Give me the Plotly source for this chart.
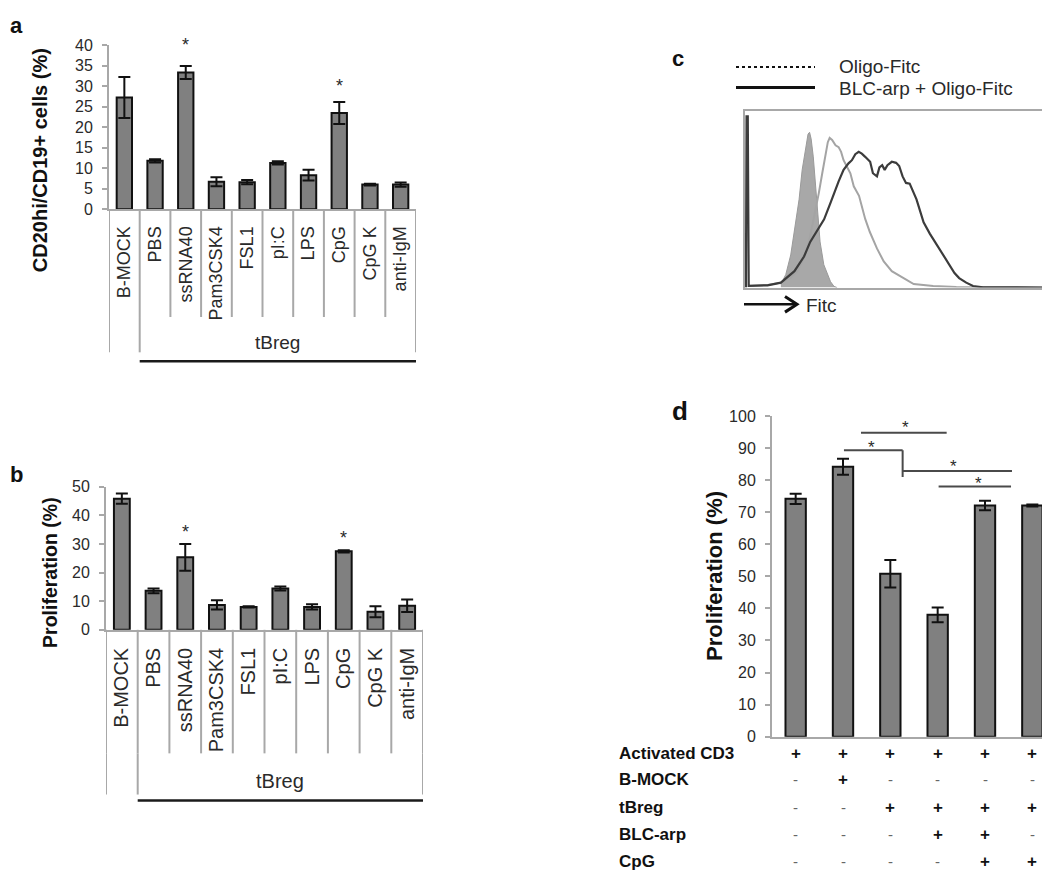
import plotly.graph_objects as go

W, H = 1050, 873
def px(x): return x / W
def py(y): return 1 - y / H

FONT = "Liberation Sans, Arial, sans-serif"
AX = "#a8a8a8"
TXT = "#2a2a2a"
BAR = "#808080"

# ---------------- data ----------------
cats = ["B-MOCK", "PBS", "ssRNA40", "Pam3CSK4", "FSL1", "pI:C", "LPS", "CpG", "CpG K", "anti-IgM"]
a_vals = [27.3, 11.8, 33.4, 6.7, 6.6, 11.3, 8.3, 23.5, 6.0, 6.0]
a_err = [5.0, 0.4, 1.6, 1.1, 0.5, 0.4, 1.3, 2.7, 0.2, 0.5]
a_star = [None, None, 41.0, None, None, None, None, 31.0, None, None]
b_vals = [45.8, 13.6, 25.3, 8.7, 8.0, 14.4, 8.0, 27.4, 6.3, 8.4]
b_err = [1.8, 0.8, 4.7, 1.6, 0.2, 0.7, 0.9, 0.4, 1.9, 2.2]
b_star = [None, None, 35.5, None, None, None, None, 33.5, None, None]
group_label = "tBreg"

d_cats = ["d1", "d2", "d3", "d4", "d5", "d6"]
d_vals = [74.2, 84.2, 50.8, 38.0, 72.1, 72.1]
d_err = [1.6, 2.5, 4.3, 2.3, 1.5, 0.3]
d_rows = ["Activated CD3", "B-MOCK", "tBreg", "BLC-arp", "CpG"]
d_signs = [
    ["+", "+", "+", "+", "+", "+"],
    ["-", "+", "-", "-", "-", "-"],
    ["-", "-", "+", "+", "+", "+"],
    ["-", "-", "-", "+", "+", "-"],
    ["-", "-", "-", "-", "+", "+"],
]
# significance brackets: (x start, x end, y level) in category / % units
d_sig_lines = [(1.38, 3.19, 94.8), (1.02, 2.26, 89.3), (2.26, 4.57, 82.9), (3.02, 4.55, 78.0)]
d_sig_drop = (2.26, 81.0, 89.3)
d_sig_stars = [(2.32, 97.6), (1.6, 91.3), (3.34, 85.4), (3.87, 80.2)]

# histogram (panel c), x = channel (0-100), y = relative count (0-100)
c_ctrl_x = [11.6, 13.2, 14.8, 16.0, 17.5, 18.5, 19.6, 20.4, 20.9, 21.4, 22.1, 22.8, 23.6, 24.3, 25.5, 26.6, 27.7, 28.8, 29.8]
c_ctrl_y = [1.9, 7.4, 18.5, 31.5, 50.0, 66.7, 79.6, 87.0, 88.0, 84.3, 74.1, 57.4, 42.6, 25.9, 13.0, 7.6, 3.3, 0.7, 0.0]
c_oligo_x = [1.1, 7.3, 11.6, 14.8, 16.9, 19.1, 20.7, 22.3, 23.9, 25.0, 26.0, 26.8, 27.4, 28.2, 29.3, 30.3, 31.1, 31.9,
             33.0, 34.1, 35.2, 36.9, 38.9, 40.4, 42.7, 44.9, 47.5, 50.1, 54.6, 60.9, 68.4, 99.5]
c_oligo_y = [0.9, 1.5, 2.8, 5.6, 9.3, 16.7, 25.9, 38.9, 53.7, 64.8, 75.9, 82.4, 84.8, 83.7, 80.6, 79.6, 76.9, 72.2,
             68.5, 64.8, 57.4, 52.0, 38.9, 31.5, 22.2, 14.8, 9.3, 6.5, 2.0, 0.9, 0.4, 0.0]
c_blc_x = [0.3, 0.5, 0.9, 1.2, 7.3, 11.6, 16.0, 19.1, 21.1, 23.4, 25.6, 27.7, 28.8, 30.3, 31.9, 33.5, 34.6, 35.7, 36.8,
           37.8, 38.9, 40.5, 41.4, 42.7, 43.5, 44.4, 45.2, 46.1, 47.5, 48.9, 49.9, 51.0, 52.1, 53.3, 55.5, 57.8,
           59.8, 62.0, 64.1, 66.1, 67.8, 69.3, 71.6, 73.8, 77.0, 99.5]
c_blc_y = [0.0, 97.0, 97.0, 1.0, 1.3, 2.8, 9.3, 17.6, 25.9, 32.4, 38.7, 48.1, 53.7, 60.2, 66.7, 70.4, 72.2, 75.6, 76.9,
           75.9, 74.1, 71.3, 64.8, 63.0, 68.1, 69.4, 66.7, 69.4, 71.3, 70.7, 68.9, 63.0, 59.3, 58.9, 50.0, 37.0,
           30.6, 24.3, 18.5, 13.1, 8.3, 5.4, 2.8, 0.9, 0.2, 0.0]

fig = go.Figure()

def bar_trace(x, y, err, xa, ya, width):
    return go.Bar(
        x=x, y=y, xaxis=xa, yaxis=ya, width=width,
        marker=dict(color=BAR, line=dict(color="#111111", width=2)),
        error_y=dict(type="data", array=err, visible=True, color="#111111", thickness=2, width=6),
        hoverinfo="skip",
    )

fig.add_trace(bar_trace(cats, a_vals, a_err, "x", "y", 0.5))
fig.add_trace(bar_trace(cats, b_vals, b_err, "x2", "y2", 0.5))
fig.add_trace(bar_trace(d_cats, d_vals, d_err, "x4", "y4", 0.43))

# histogram traces
fig.add_trace(go.Scatter(x=c_ctrl_x, y=c_ctrl_y, xaxis="x3", yaxis="y3", mode="lines",
                         fill="tozeroy", fillcolor="#a8a8a8", line=dict(color="#9a9a9a", width=1),
                         hoverinfo="skip"))
fig.add_trace(go.Scatter(x=c_oligo_x, y=c_oligo_y, xaxis="x3", yaxis="y3", mode="lines",
                         line=dict(color="#a4a4a4", width=2), hoverinfo="skip"))
fig.add_trace(go.Scatter(x=c_blc_x, y=c_blc_y, xaxis="x3", yaxis="y3", mode="lines",
                         line=dict(color="#3c3c3c", width=2.2), hoverinfo="skip"))

ytick_common = dict(showline=True, linecolor=AX, linewidth=2, ticks="outside", ticklen=5,
                    tickcolor=AX, tickwidth=1.5, showgrid=False, zeroline=False,
                    tickfont=dict(family=FONT, size=16, color=TXT), ticklabelstandoff=6)

layout = dict(
    width=W, height=H, margin=dict(l=0, r=0, t=0, b=0),
    paper_bgcolor="white", plot_bgcolor="white", showlegend=False,
    font=dict(family=FONT, color=TXT),
    xaxis=dict(domain=[px(101), px(408)], anchor="y", range=[-0.5, 9.5], showline=True,
               linecolor=AX, linewidth=2, ticks="", tickangle=-90, showgrid=False,
               tickfont=dict(family=FONT, size=18, color=TXT), ticklabelstandoff=8),
    yaxis=dict(domain=[py(197), py(30)], anchor="x", range=[0, 40], dtick=5, **ytick_common),
    xaxis2=dict(domain=[px(98), px(415)], anchor="y2", range=[-0.5, 9.5], showline=True,
                linecolor=AX, linewidth=2, ticks="", tickangle=-90, showgrid=False,
                tickfont=dict(family=FONT, size=20, color=TXT), ticklabelstandoff=8),
    yaxis2=dict(domain=[py(626), py(480)], anchor="x2", range=[0, 50], dtick=10, **ytick_common),
    xaxis3=dict(domain=[px(737), px(1046)], anchor="y3", range=[0, 100], showline=True, mirror=True,
                linecolor=AX, linewidth=1.5, ticks="", showticklabels=False, showgrid=False, zeroline=False),
    yaxis3=dict(domain=[py(277), py(97)], anchor="x3", range=[0, 100], showline=True, mirror=True,
                linecolor=AX, linewidth=1.5, ticks="", showticklabels=False, showgrid=False, zeroline=False),
    xaxis4=dict(domain=[px(764), px(1048)], anchor="y4", range=[-0.5, 5.5], showline=True,
                linecolor=AX, linewidth=2, ticks="", showticklabels=False, showgrid=False),
    yaxis4=dict(domain=[py(735), py(408)], anchor="x4", range=[0, 100], dtick=10, **ytick_common),
)
fig.update_layout(**layout)

shapes = []
ann = []

def text(t, x, y, size, xref="paper", yref="paper", color=TXT, xanchor="center", angle=0, yshift=0):
    ann.append(dict(text=t, x=x, y=y, xref=xref, yref=yref, showarrow=False, xanchor=xanchor,
                    yanchor="middle", textangle=angle, yshift=yshift,
                    font=dict(family=FONT, size=size, color=color)))

# ---- category dividers & group bracket for a and b ----
def group_box(xa, y_axis, y_div, y_outer, y_line, n, y_text, fsize):
    for i in range(n + 1):
        xv = i - 0.5
        shapes.append(dict(type="line", xref=xa, yref="paper", x0=xv, x1=xv,
                           y0=py(y_axis), y1=py(y_div), line=dict(color=AX, width=2)))
    for xv in (-0.5, 0.5, n - 0.5):
        shapes.append(dict(type="line", xref=xa, yref="paper", x0=xv, x1=xv,
                           y0=py(y_div), y1=py(y_outer), line=dict(color=AX, width=2)))
    shapes.append(dict(type="line", xref=xa, yref="paper", x0=0.5, x1=n - 0.5,
                       y0=py(y_line), y1=py(y_line), line=dict(color="#1a1a1a", width=2.5)))
    text(group_label, (0.5 + n - 0.5) / 2, py(y_text), fsize, xref=xa)

group_box("x", 197, 307, 343, 352, 10, 333, 19)
group_box("x2", 626, 752, 794, 800, 10, 780, 20)

# stars a/b (in axis-domain units so they may sit above the top tick)
for i, s in enumerate(a_star):
    if s is not None:
        text("*", cats[i], s / 40.0, 18, xref="x", yref="y domain", yshift=-4)
for i, s in enumerate(b_star):
    if s is not None:
        text("*", cats[i], s / 50.0, 18, xref="x2", yref="y2 domain", yshift=-4)

# panel letters
for t, x, y, s in (("a", 8, 10, 22), ("b", 8, 468, 22), ("c", 670, 43, 22), ("d", 672, 403, 26)):
    text("<b>%s</b>" % t, px(x), py(y), s, color="#111")

# axis titles
text("<b>CD20hi/CD19+ cells (%)</b>", px(32), py(147), 20, color="#111", angle=-90)
text("<b>Proliferation (%)</b>", px(42), py(568), 19.5, color="#111", angle=-90)
text("<b>Proliferation (%)</b>", px(707), py(571), 22, color="#111", angle=-90)

# panel c legend / axis label
shapes.append(dict(type="line", xref="paper", yref="paper", x0=px(728), x1=px(807), y0=py(52), y1=py(52),
                   line=dict(color="#111", width=2, dash="dot")))
shapes.append(dict(type="line", xref="paper", yref="paper", x0=px(728), x1=px(807), y0=py(73), y1=py(73),
                   line=dict(color="#111", width=3)))
text("Oligo-Fitc", px(829), py(52), 19, xanchor="left")
text("BLC-arp + Oligo-Fitc", px(829), py(74), 19, xanchor="left")
shapes.append(dict(type="line", xref="paper", yref="paper", x0=px(736), x1=px(788), y0=py(294), y1=py(294),
                   line=dict(color="#111", width=2.5)))
shapes.append(dict(type="path", xref="paper", yref="paper",
                   path="M %f,%f L %f,%f L %f,%f" % (px(777), py(286), px(789), py(294), px(777), py(302)),
                   line=dict(color="#111", width=3)))
text("Fitc", px(796), py(295), 19, xanchor="left")

# panel d significance
for x0, x1, yv in d_sig_lines:
    shapes.append(dict(type="line", xref="x4", yref="y4", x0=x0, x1=x1, y0=yv, y1=yv,
                       line=dict(color="#4a4a4a", width=2)))
shapes.append(dict(type="line", xref="x4", yref="y4", x0=d_sig_drop[0], x1=d_sig_drop[0],
                   y0=d_sig_drop[1], y1=d_sig_drop[2], line=dict(color="#4a4a4a", width=2)))
for xs, ys in d_sig_stars:
    text("*", xs, ys, 17, xref="x4", yref="y4", yshift=-4)

# panel d condition table
row_y = [752, 779, 807, 835, 862]
for r, lab in enumerate(d_rows):
    text("<b>%s</b>" % lab, px(609), py(row_y[r]), 17, color="#111", xanchor="left")
    for c, sgn in enumerate(d_signs[r]):
        if sgn == "+":
            text("<b>+</b>", c, py(row_y[r]), 17, xref="x4", color="#111")
        else:
            text("-", c, py(row_y[r]), 15, xref="x4", color="#666")

fig.update_layout(shapes=shapes, annotations=ann)
fig.write_html("out.html")
